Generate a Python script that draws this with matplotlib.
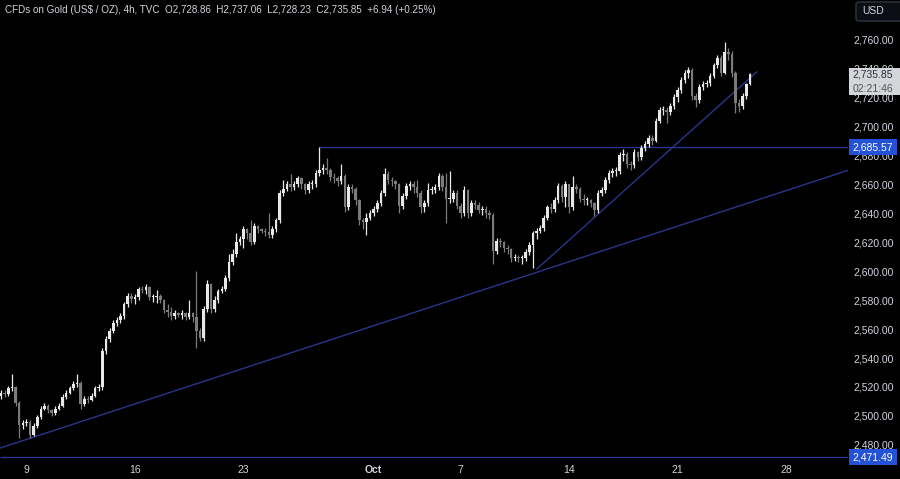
import matplotlib
matplotlib.use("Agg")
import matplotlib.pyplot as plt
from matplotlib.patches import Rectangle, FancyBboxPatch
from matplotlib.transforms import blended_transform_factory

plt.rcParams['font.family'] = ['Liberation Sans', 'DejaVu Sans']

# 4h candles, Sep 6 -> Oct 24 (open of each bar = previous close)
first_open = 2514.0
closes = [2516, 2515, 2519, 2520, 2509, 2494, 2495, 2496, 2487, 2493,
          2499, 2505, 2507, 2504, 2502, 2505, 2507, 2513, 2516, 2519,
          2522, 2523, 2508, 2512, 2511, 2514, 2519, 2520, 2545, 2553,
          2559, 2564, 2566, 2569, 2577, 2583, 2581, 2582, 2588, 2587,
          2589, 2582, 2582, 2583, 2580, 2573, 2572, 2569, 2571, 2570,
          2571, 2568, 2571, 2568, 2559, 2554, 2574, 2591, 2574, 2580,
          2586, 2588, 2595, 2606, 2612, 2620, 2622, 2629, 2626, 2620,
          2631, 2629, 2628, 2627, 2625, 2629, 2635, 2654, 2657, 2660,
          2658, 2660, 2664, 2660, 2656, 2660, 2660, 2668, 2670, 2671,
          2670, 2665, 2664, 2662, 2666, 2644, 2658, 2657, 2649, 2635,
          2634, 2637, 2640, 2643, 2647, 2654, 2667, 2663, 2662, 2660,
          2645, 2652, 2659, 2660, 2658, 2654, 2644, 2647, 2656, 2656,
          2658, 2666, 2658, 2650, 2650, 2654, 2645, 2640, 2656, 2640,
          2647, 2646, 2642, 2643, 2640, 2639, 2614, 2621, 2620, 2616,
          2615, 2609, 2610, 2609, 2609, 2613, 2618, 2626, 2628, 2630,
          2637, 2644, 2643, 2649, 2659, 2651, 2660, 2644, 2658, 2657,
          2650, 2649, 2649, 2647, 2642, 2654, 2656, 2663, 2668, 2669,
          2669, 2680, 2681, 2674, 2673, 2682, 2679, 2685, 2688, 2692,
          2690, 2704, 2711, 2711, 2710, 2714, 2720, 2725, 2732, 2737,
          2739, 2721, 2718, 2727, 2729, 2730, 2735, 2742, 2747, 2737,
          2751, 2750, 2737, 2716, 2714, 2721, 2728.86, 2735.85]
highs = [2518, 2518, 2521, 2529, 2521, 2510, 2497, 2498, 2497, 2495,
         2501, 2507, 2509, 2508, 2505, 2507, 2509, 2515, 2518, 2521,
         2524, 2529, 2524, 2514, 2514, 2516, 2521, 2522, 2547, 2555,
         2561, 2566, 2568, 2571, 2579, 2585, 2585, 2584, 2589, 2590,
         2591, 2590, 2584, 2587, 2584, 2581, 2577, 2575, 2573, 2572,
         2573, 2572, 2580, 2572, 2600, 2561, 2576, 2594, 2592, 2583,
         2588, 2590, 2597, 2612, 2615, 2626, 2624, 2631, 2630, 2635,
         2633, 2632, 2630, 2630, 2640, 2631, 2637, 2656, 2663, 2662,
         2667, 2662, 2666, 2665, 2661, 2662, 2663, 2670, 2685.57, 2674,
         2678, 2671, 2668, 2666, 2674, 2667, 2660, 2660, 2658, 2650,
         2637, 2640, 2642, 2645, 2649, 2656, 2671, 2669, 2665, 2663,
         2661, 2654, 2661, 2662, 2662, 2663, 2656, 2649, 2661, 2659,
         2660, 2668, 2667, 2668, 2669, 2656, 2656, 2647, 2659, 2657,
         2649, 2649, 2648, 2645, 2645, 2642, 2640, 2623, 2623, 2621,
         2618, 2616, 2612, 2611, 2611, 2615, 2620, 2628, 2630, 2632,
         2639, 2646, 2647, 2651, 2661, 2660, 2662, 2660, 2666, 2660,
         2658, 2653, 2651, 2650, 2648, 2656, 2658, 2665, 2670, 2671,
         2672, 2682, 2684, 2682, 2676, 2684, 2683, 2687, 2690, 2694,
         2694, 2706, 2713, 2714, 2713, 2716, 2722, 2727, 2734, 2739,
         2741, 2740, 2723, 2729, 2731, 2732, 2737, 2744, 2749, 2749,
         2758, 2754, 2752, 2738, 2719, 2723, 2730, 2737.06]
lows = [2512, 2513, 2514, 2517, 2507, 2485, 2491, 2493, 2485, 2486,
        2492, 2498, 2504, 2502, 2500, 2501, 2504, 2506, 2512, 2515,
        2518, 2520, 2505, 2507, 2509, 2510, 2513, 2517, 2518, 2543,
        2551, 2557, 2562, 2564, 2567, 2575, 2578, 2577, 2580, 2585,
        2584, 2580, 2579, 2578, 2578, 2571, 2568, 2566, 2567, 2568,
        2567, 2566, 2567, 2565, 2547, 2552, 2552, 2572, 2571, 2572,
        2578, 2585, 2586, 2593, 2604, 2610, 2618, 2616, 2622, 2618,
        2619, 2626, 2626, 2624, 2623, 2623, 2627, 2633, 2652, 2655,
        2655, 2656, 2658, 2657, 2653, 2654, 2657, 2658, 2666, 2667,
        2667, 2662, 2661, 2659, 2660, 2641, 2642, 2654, 2646, 2632,
        2629, 2625, 2635, 2638, 2641, 2645, 2652, 2660, 2659, 2657,
        2640, 2643, 2650, 2656, 2654, 2651, 2640, 2641, 2645, 2653,
        2654, 2656, 2655, 2633, 2647, 2648, 2643, 2637, 2638, 2637,
        2638, 2643, 2640, 2639, 2637, 2636, 2605, 2612, 2617, 2613,
        2612, 2606, 2607, 2606, 2605, 2607, 2611, 2602, 2622, 2626,
        2628, 2635, 2640, 2641, 2647, 2648, 2644, 2640, 2642, 2654,
        2648, 2646, 2646, 2644, 2638, 2640, 2652, 2654, 2661, 2665,
        2666, 2667, 2676, 2671, 2670, 2671, 2676, 2677, 2683, 2686,
        2687, 2689, 2702, 2708, 2702, 2708, 2712, 2717, 2723, 2730,
        2733, 2718, 2713, 2716, 2725, 2727, 2728, 2733, 2740, 2735,
        2736, 2746, 2734, 2709, 2710, 2712, 2719, 2728.23]

day_ticks = [7, 37, 67, 103, 127, 157, 187, 217]
day_labels = ['9', '16', '23', 'Oct', '7', '14', '21', '28']
price_ticks = list(range(2480, 2761, 20))

resistance = 2685.57
resistance_start = 88
support = 2471.49
long_trend_x = [-0.3, 234.6]
long_trend_y = [2477.8, 2670.0]
short_trend_x = [148.1, 208.9]
short_trend_y = [2601.5, 2737.6]
last_close = 2735.85
countdown = '02:21:46'

title = ("CFDs on Gold (US$ / OZ), 4h, TVC  O2,728.86  H2,737.06  "
         "L2,728.23  C2,735.85  +6.94 (+0.25%)")

opens = [first_open] + closes[:-1]

up_col = '#e8e8e8'
down_col = '#7b7b7b'
line_col = '#29358a'
blue = '#2452d6'
text_col = '#d1d4dc'

fig = plt.figure(figsize=(9, 4.79), dpi=100, facecolor='black')
ax = fig.add_axes([0, 18 / 479, 848 / 900, 461 / 479])
ax.set_facecolor('black')
ax.set_xlim(-0.3, 234.1)
ax.set_ylim(2468.9, 2787.2)

for i, (o, h, l, c) in enumerate(zip(opens, highs, lows, closes)):
    col = up_col if c >= o else down_col
    ax.vlines(i, l, h, color=col, lw=0.9, zorder=3)
    body = max(abs(c - o), 0.6)
    ax.bar(i, body, bottom=min(o, c), width=0.7, color=col, lw=0, zorder=4)

ax.plot(long_trend_x, long_trend_y, color=line_col, lw=1.0, zorder=2)
ax.plot(short_trend_x, short_trend_y, color=line_col, lw=1.0, zorder=2)
ax.hlines(resistance, resistance_start, 234.1, color=line_col, lw=1.0, zorder=2)
ax.hlines(support, -0.3, 234.1, color=line_col, lw=1.0, zorder=2)

for s in ax.spines.values():
    s.set_visible(False)

ax.yaxis.tick_right()
ax.set_yticks(price_ticks)
ax.set_yticklabels([f"{v:,.2f}" for v in price_ticks])
ax.tick_params(axis='y', length=0, pad=4, colors=text_col, labelsize=7.5)
ax.set_xticks(day_ticks)
ax.set_xticklabels(day_labels)
ax.tick_params(axis='x', length=0, pad=3, colors=text_col, labelsize=7.5)
for lab in ax.get_xticklabels():
    if lab.get_text() == 'Oct':
        lab.set_fontweight('bold')

trans = blended_transform_factory(fig.transFigure, ax.transData)

# price labels on the right scale
for val in (resistance, support):
    fig.add_artist(Rectangle((849 / 900, val - 5.6), 48 / 900, 11.2,
                             transform=trans, facecolor=blue, lw=0))
    fig.text(873 / 900, val, f"{val:,.2f}", transform=trans, color='white',
             fontsize=7.5, ha='center', va='center')

fig.add_artist(Rectangle((849 / 900, 2721.3), 51 / 900, 18.8,
                         transform=trans, facecolor='#d4d6da', lw=0))
fig.text(873 / 900, last_close - 0.3, f"{last_close:,.2f}", transform=trans,
         color='#2a2e39', fontsize=7.5, ha='center', va='center')
fig.text(873 / 900, 2726.0, countdown, transform=trans,
         color='#50535e', fontsize=7.5, ha='center', va='center')

fig.add_artist(FancyBboxPatch((856 / 900, 1 - 21 / 479), 50 / 900, 19 / 479,
                              boxstyle='round,pad=0,rounding_size=0.005',
                              transform=fig.transFigure, facecolor='#0c0e15',
                              edgecolor='#2a2e39', lw=1.2))
fig.text(873 / 900, 1 - 11 / 479, 'USD', color=text_col, fontsize=7.5,
         ha='center', va='center')

fig.text(5 / 900, 1 - 10 / 479, title, color=text_col, fontsize=7.1,
         ha='left', va='center')

fig.savefig('out.png', dpi=100, facecolor='black')
